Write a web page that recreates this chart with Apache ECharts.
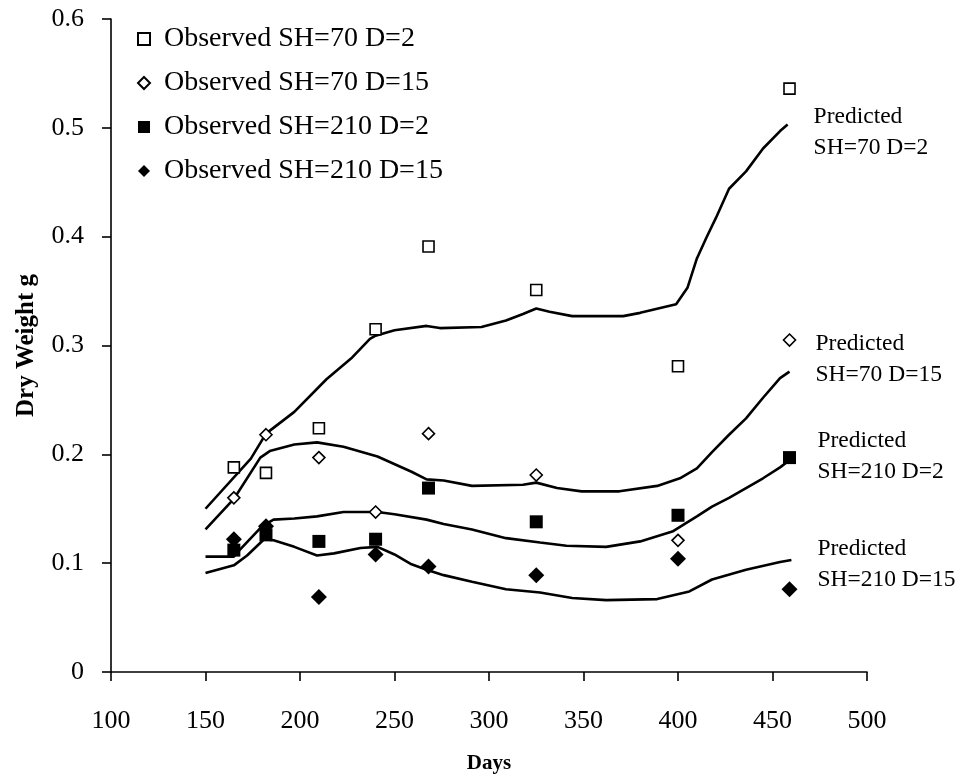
<!DOCTYPE html>
<html>
<head>
<meta charset="utf-8">
<script src="https://cdn.jsdelivr.net/npm/echarts@6/dist/echarts.min.js"></script>
<style>
  html, body { margin: 0; padding: 0; background: #fff; }
  #chart { width: 962px; height: 777px; }
</style>
</head>
<body>
<div id="chart"></div>
<script>
// Sampling days of the observed dry weights
const obsDays = [165, 182, 210, 240, 268, 325, 400, 459];

// Observed dry weight (g)
const obsSH70D2   = [0.188, 0.183, 0.224, 0.315, 0.391, 0.351, 0.281, 0.536];
const obsSH70D15  = [0.160, 0.218, 0.197, 0.147, 0.219, 0.181, 0.121, 0.305];
const obsSH210D2  = [0.112, 0.126, 0.120, 0.122, 0.169, 0.138, 0.144, 0.197];
const obsSH210D15 = [0.122, 0.134, 0.069, 0.108, 0.097, 0.089, 0.104, 0.076];

// Model predictions
const predDaysSH70D2 = [150, 174, 182, 197, 214, 227, 237, 240, 250, 267, 274, 296, 309, 318, 325, 332, 344, 371, 380, 399, 405, 410, 415, 420, 427, 436, 445, 454, 458];
const predSH70D2     = [0.150, 0.196, 0.219, 0.239, 0.269, 0.288, 0.306, 0.309, 0.314, 0.318, 0.316, 0.317, 0.323, 0.329, 0.334, 0.331, 0.327, 0.327, 0.330, 0.338, 0.353, 0.380, 0.399, 0.417, 0.444, 0.460, 0.481, 0.497, 0.503];

const predDaysSH70D15 = [150, 165, 179, 184, 197, 209, 223, 241, 259, 267, 276, 291, 318, 325, 336, 349, 369, 389, 401, 410, 418, 427, 436, 445, 454, 459];
const predSH70D15     = [0.131, 0.159, 0.197, 0.203, 0.209, 0.211, 0.207, 0.198, 0.184, 0.177, 0.176, 0.171, 0.172, 0.174, 0.169, 0.166, 0.166, 0.171, 0.178, 0.187, 0.202, 0.218, 0.233, 0.252, 0.270, 0.276];

const predDaysSH210D2 = [150, 165, 168, 180, 186, 197, 209, 223, 241, 250, 267, 276, 291, 309, 327, 341, 362, 380, 397, 410, 418, 427, 436, 445, 454, 460];
const predSH210D2     = [0.106, 0.106, 0.112, 0.134, 0.140, 0.141, 0.143, 0.147, 0.147, 0.145, 0.140, 0.136, 0.131, 0.123, 0.119, 0.116, 0.115, 0.120, 0.129, 0.143, 0.152, 0.160, 0.169, 0.178, 0.188, 0.196];

const predDaysSH210D15 = [150, 165, 172, 181, 186, 197, 209, 218, 232, 241, 250, 259, 267, 276, 291, 309, 327, 344, 362, 389, 406, 418, 436, 454, 460];
const predSH210D15     = [0.091, 0.098, 0.107, 0.122, 0.121, 0.115, 0.107, 0.109, 0.114, 0.115, 0.108, 0.099, 0.094, 0.089, 0.083, 0.076, 0.073, 0.068, 0.066, 0.067, 0.074, 0.085, 0.094, 0.101, 0.103];

const FONT = "'Liberation Serif', 'Times New Roman', serif";

const pair = (xs, ys) => xs.map((x, i) => [x, ys[i]]);

function observed(name, values, symbol, size, filled) {
  return {
    name: name,
    type: 'scatter',
    data: pair(obsDays, values),
    symbol: symbol,
    symbolSize: size,
    itemStyle: filled
      ? { color: '#000', borderColor: '#000', borderWidth: 0, opacity: 1 }
      : { color: '#fff', borderColor: '#000', borderWidth: 1.6, opacity: 1 },
    z: 5
  };
}

function predicted(label, xs, ys, dy) {
  return {
    name: label,
    type: 'line',
    data: pair(xs, ys),
    showSymbol: false,
    symbol: 'none',
    smooth: false,
    lineStyle: { color: '#000', width: 2.6 },
    endLabel: {
      show: true,
      formatter: 'Predicted\n' + label,
      fontFamily: FONT,
      fontSize: 23.5,
      lineHeight: 31,
      color: '#000',
      distance: 26,
      offset: [0, dy],
      align: 'left'
    },
    z: 3
  };
}

const chart = echarts.init(document.getElementById('chart'), null, { renderer: 'canvas' });

chart.setOption({
  animation: false,
  backgroundColor: '#fff',
  grid: { left: 111, right: 95, top: 19, bottom: 105, containLabel: false, outerBoundsMode: 'none' },
  legend: {
    orient: 'vertical',
    left: 137,
    top: 24,
    padding: 0,
    itemWidth: 12,
    itemHeight: 12,
    itemGap: 14,
    data: ['Observed SH=70 D=2', 'Observed SH=70 D=15', 'Observed SH=210 D=2', 'Observed SH=210 D=15'],
    textStyle: { fontFamily: FONT, fontSize: 28, color: '#000', lineHeight: 30, padding: [0, 0, 0, 9] }
  },
  xAxis: {
    type: 'value',
    min: 100,
    max: 500,
    interval: 50,
    name: 'Days',
    nameLocation: 'middle',
    nameGap: 81,
    nameTextStyle: { fontFamily: FONT, fontSize: 21, fontWeight: 'bold', color: '#000' },
    axisLine: { show: true, onZero: false, lineStyle: { color: '#000', width: 1.6 } },
    axisTick: { show: true, length: 9, lineStyle: { color: '#000', width: 1.6 } },
    axisLabel: { fontFamily: FONT, fontSize: 26, color: '#000', margin: 36 },
    splitLine: { show: false }
  },
  yAxis: {
    type: 'value',
    min: 0,
    max: 0.6,
    interval: 0.1,
    name: 'Dry Weight g',
    nameLocation: 'middle',
    nameGap: 72,
    nameTextStyle: { fontFamily: FONT, fontSize: 25, fontWeight: 'bold', color: '#000' },
    axisLine: { show: true, lineStyle: { color: '#000', width: 1.6 } },
    axisTick: { show: true, length: 9, lineStyle: { color: '#000', width: 1.6 } },
    axisLabel: { fontFamily: FONT, fontSize: 26, color: '#000', margin: 27 },
    splitLine: { show: false }
  },
  series: [
    predicted('SH=70 D=2', predDaysSH70D2, predSH70D2, 8),
    predicted('SH=70 D=15', predDaysSH70D15, predSH70D15, -12),
    predicted('SH=210 D=2', predDaysSH210D2, predSH210D2, -2),
    predicted('SH=210 D=15', predDaysSH210D15, predSH210D15, 4),
    observed('Observed SH=70 D=2', obsSH70D2, 'rect', 11, false),
    observed('Observed SH=70 D=15', obsSH70D15, 'diamond', 12, false),
    observed('Observed SH=210 D=2', obsSH210D2, 'rect', 13, true),
    observed('Observed SH=210 D=15', obsSH210D15, 'diamond', 16, true)
  ]
});
</script>
</body>
</html>
